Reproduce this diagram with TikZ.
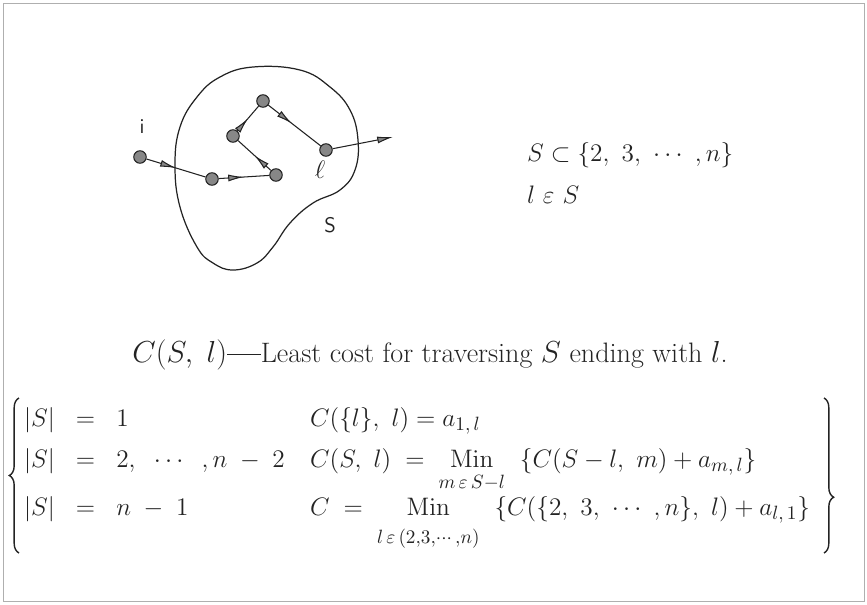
\documentclass[tikz,border=0pt]{standalone}
\usepackage{amsmath,amssymb}
\usetikzlibrary{arrows.meta,decorations.markings,decorations.pathreplacing}
\definecolor{cInk}{RGB}{35, 35, 35}
\definecolor{cCity}{RGB}{135, 135, 135}
\definecolor{cFrame}{RGB}{175, 175, 175}
\newcommand{\lowsub}[2][3pt]{\lower#1\hbox{$\scriptstyle #2$}}

\begin{document}
\begin{tikzpicture}[
    x=0.02cm, y=-0.02cm,
    >=Latex,
    font=\fontsize{15}{18}\selectfont,
    city/.style={circle, draw=cInk, fill=cCity, line width=0.6pt,
        minimum size=0.25cm, inner sep=0pt},
    road/.style={draw=cInk, line width=0.6pt},
    midarrow/.style={postaction={decorate}, decoration={markings,
        mark=at position #1 with {\arrow{Latex[length=9pt,width=4pt,fill=cCity]}}}},
    midarrow/.default=0.5,
    tag/.style={text=cInk, inner sep=1pt},
    curly/.style={draw=cInk, line width=0.8pt, decorate,
        decoration={brace, amplitude=5.5pt, aspect=#1}},
    curly/.default=0.5
]

    % ================= frame =================
    \useasboundingbox (0,0) rectangle (867,605);
    \draw[cFrame, line width=0.5pt] (3,3) rectangle (864,601);

    % ================= region S =================
    \draw[cInk, line width=0.7pt] plot[smooth cycle, tension=0.7] coordinates {
        (253,67) (300,70) (330,87) (350,110) (358,140) (355,170) (340,190)
        (313,203) (290,223) (273,247) (257,263) (233,270) (213,263) (197,247)
        (180,207) (175,165) (180,127) (197,97) (220,77)};

    % ================= tour i -> ... -> l =================
    \node[city] (i)  at (140,157) {};
    \node[city] (c1) at (212,179) {};
    \node[city] (c2) at (276,175) {};
    \node[city] (c3) at (233,136) {};
    \node[city] (c4) at (263,101) {};
    \node[city] (l)  at (326,150) {};
    \coordinate (out) at (393,137);

    \draw[road, midarrow=0.5] (i) -- (c1);
    \draw[road, midarrow=0.5] (c1) -- (c2);
    \draw[road, midarrow=0.5] (c2) -- (c3);
    \draw[road, midarrow=0.5] (c3) -- (c4);
    \draw[road, midarrow=0.45] (c4) -- (l);
    \draw[road, -{Latex[length=9pt,width=4pt,fill=cCity]}] (l) -- (out);

    \node[tag, font=\sffamily\large] (labI) at (142,127) {i};
    \node[tag] (labL) at (320,170) {$\ell$};
    \node[tag, font=\sffamily\large] (labS) at (330,225) {S};

    % ================= set conditions =================
    \node[tag, anchor=base west] (subset) at (525,161) {$S \subset \{2,\ 3,\ \cdots\ ,n\}$};
    \node[tag, anchor=base west] (member) at (525,203) {$l\ \varepsilon\ S$};

    % ================= caption =================
    \node[tag, anchor=base, font=\fontsize{16}{19}\selectfont] (cap) at (430,362)
        {$C(S,\ l)$\rule[0.55ex]{1.2em}{0.5pt}Least cost for traversing $S$ ending with $l$.};

    % ================= recurrence =================
    \coordinate (lbrTop) at (19,398);
    \coordinate (lbrBot) at (19,553);
    \coordinate (rbrTop) at (824,398);
    \coordinate (rbrBot) at (824,553);
    \draw[curly] (lbrBot) -- (lbrTop);
    \draw[curly=0.64] (rbrTop) -- (rbrBot);

    \node[tag, anchor=base west] (r1a) at (22,426) {$|S|\;\;=\;\;1$};
    \node[tag, anchor=base west] (r1b) at (308,426) {$C(\{l\},\ l) = a_{1,\,l}$};
    \node[tag, anchor=base west] (r2a) at (22,467) {$|S|\;\;=\;\;2,\;\;\cdots\;\;,n\;-\;2$};
    \node[tag, anchor=base west] (r2b) at (308,467)
        {$C(S,\ l)\;=\;\mathop{\mathrm{Min}}\limits_{\lowsub{m\,\varepsilon\, S-l}}\;\ \{C(S-l,\ m) + a_{m,\,l}\}$};
    \node[tag, anchor=base west] (r3a) at (22,515) {$|S|\;\;=\;\;n\;-\;1$};
    \node[tag, anchor=base west] (r3b) at (308,515)
        {$C\;=\;\mathop{\mathrm{Min}}\limits_{\lowsub[7pt]{l\,\varepsilon\,(2,3,\cdots,n)}}\;\ \{C(\{2,\ 3,\ \cdots\ ,n\},\ l) + a_{l,\,1}\}$};

\end{tikzpicture}
\end{document}
